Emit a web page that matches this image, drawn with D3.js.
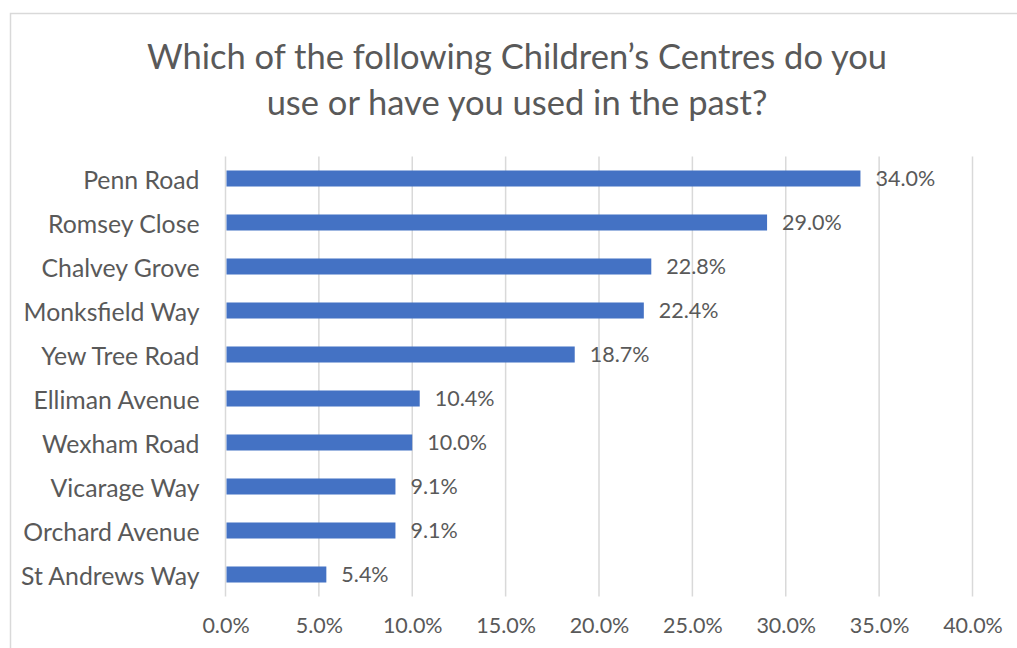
<!DOCTYPE html>
<html>
<head>
<meta charset="utf-8">
<script src="https://cdn.jsdelivr.net/npm/d3@7"></script>
<style>
  html, body { margin: 0; padding: 0; background: #fff; }
  svg { display: block; }
</style>
</head>
<body>
<svg id="chart" width="1017" height="648"></svg>
<script>
const categories = ["Penn Road", "Romsey Close", "Chalvey Grove", "Monksfield Way", "Yew Tree Road",
  "Elliman Avenue", "Wexham Road", "Vicarage Way", "Orchard Avenue", "St Andrews Way"];
const values = [34.0, 29.0, 22.8, 22.4, 18.7, 10.4, 10.0, 9.1, 9.1, 5.4];
const tickValues = [0, 5, 10, 15, 20, 25, 30, 35, 40];
const titleLines = ["Which of the following Children’s Centres do you", "use or have you used in the past?"];

const FONT = "Lato, 'Open Sans', sans-serif";
const TEXT = "#595959";

const svg = d3.select("#chart");

// chart area frame
svg.append("rect")
  .attr("x", 10.5).attr("y", 13.5)
  .attr("width", 1030).attr("height", 660)
  .attr("fill", "#fff").attr("stroke", "#d9d9d9").attr("stroke-width", 1.5);

const x = d3.scaleLinear().domain([0, 40]).range([225.5, 972.5]);
const y = d3.scaleBand().domain(categories).range([156.5, 596.5]).paddingInner(0.636).paddingOuter(0.318);

// title
svg.append("text")
  .attr("x", 517).attr("y", 69)
  .attr("text-anchor", "middle")
  .attr("font-family", FONT).attr("font-size", 34.5).attr("fill", TEXT)
  .selectAll("tspan").data(titleLines).join("tspan")
  .attr("x", 517).attr("dy", (d, i) => i === 0 ? 0 : 46)
  .text(d => d);

// vertical gridlines
svg.append("g").selectAll("line").data(tickValues).join("line")
  .attr("x1", d => x(d)).attr("x2", d => x(d))
  .attr("y1", 156.5).attr("y2", 596.5)
  .attr("stroke", "#d9d9d9").attr("stroke-width", 1.5);

// bars
svg.append("g").selectAll("rect").data(categories).join("rect")
  .attr("x", x(0) + 1)
  .attr("y", d => y(d))
  .attr("width", (d, i) => x(values[i]) - x(0) - 1)
  .attr("height", y.bandwidth())
  .attr("fill", "#4472C4");

// value labels
svg.append("g").selectAll("text").data(categories).join("text")
  .attr("x", (d, i) => x(values[i]) + 15)
  .attr("y", d => y(d) + y.bandwidth() / 2)
  .attr("dy", "0.37em")
  .attr("font-family", FONT).attr("font-size", 21.5).attr("fill", TEXT)
  .text((d, i) => values[i].toFixed(1) + "%");

// category axis
const yAxis = svg.append("g")
  .attr("transform", "translate(225.5,0)")
  .call(d3.axisLeft(y).tickSize(0).tickPadding(26));
yAxis.select(".domain").remove();
yAxis.selectAll("text")
  .attr("dy", "0.42em")
  .attr("font-family", FONT).attr("font-size", 24.8).attr("fill", TEXT);

// value axis
const xAxis = svg.append("g")
  .attr("transform", "translate(0,596.5)")
  .call(d3.axisBottom(x).tickValues(tickValues).tickSize(0).tickPadding(21)
    .tickFormat(d => d.toFixed(1) + "%"));
xAxis.select(".domain").remove();
xAxis.selectAll("text")
  .attr("font-family", FONT).attr("font-size", 21.5).attr("fill", TEXT);
</script>
</body>
</html>
